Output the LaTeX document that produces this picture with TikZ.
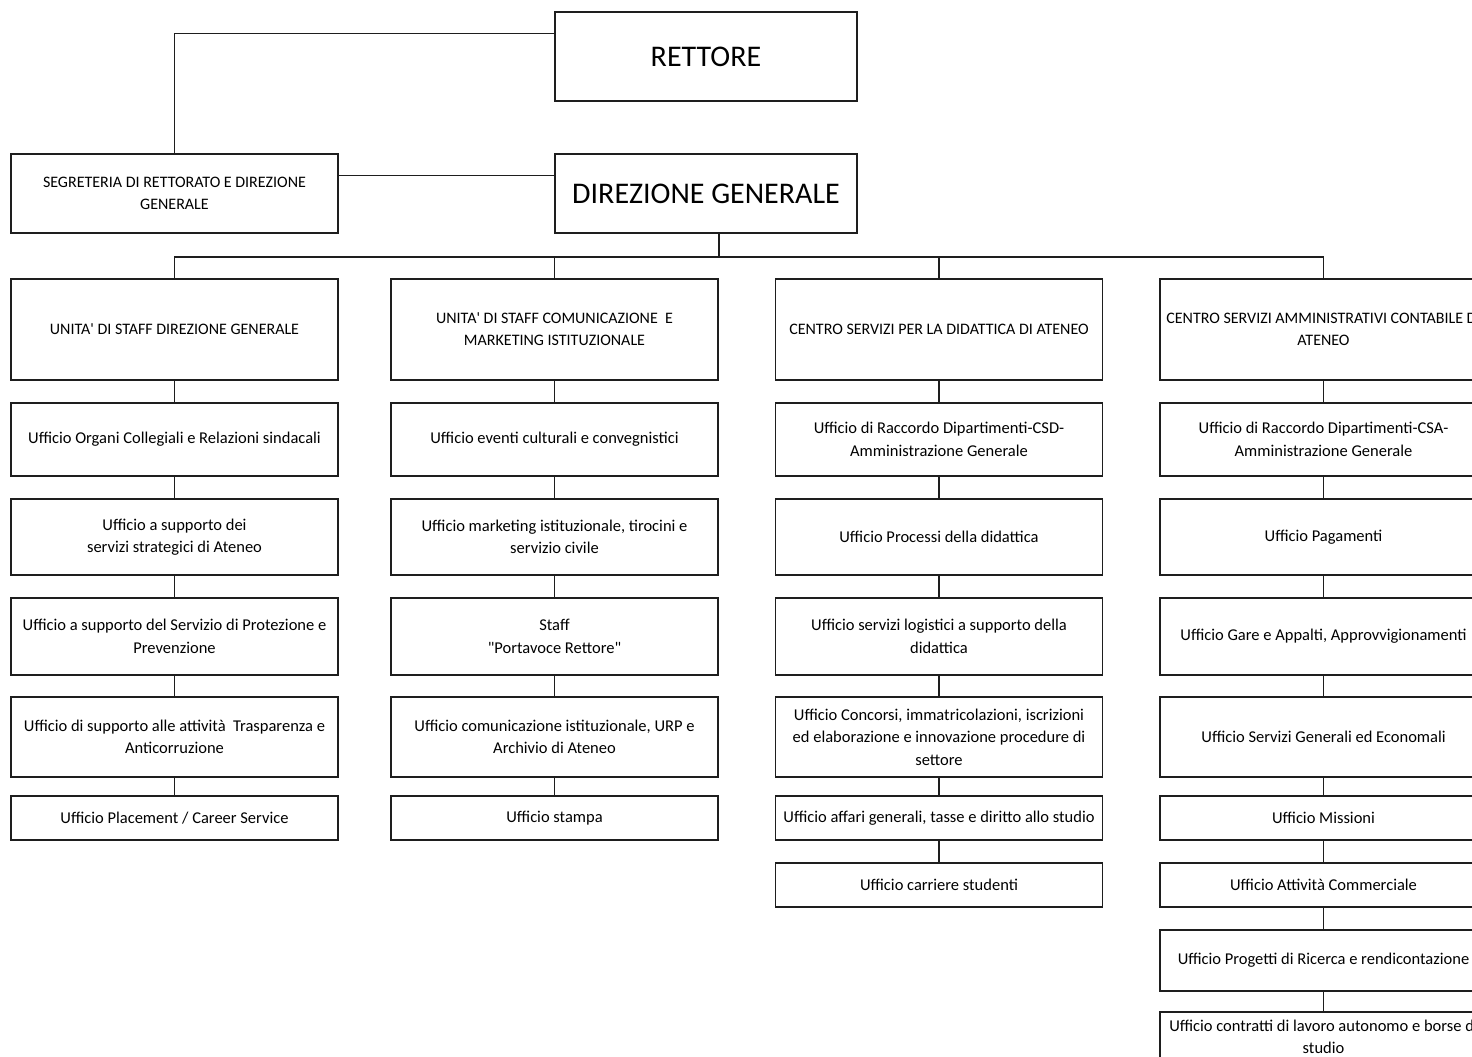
\documentclass[tikz,border=0pt]{standalone}
\usepackage{fontspec}
\setmainfont{Carlito}
\usetikzlibrary{calc}

\tikzset{every picture/.style={line width=1.1pt}}
\tikzset{
  ufficio/.style={draw={rgb,255:red,30;green,30;blue,30}, align=center, inner sep=0pt,
    minimum width=327pt, font=\fontsize{16.5}{22.5}\selectfont},
  settore/.style={ufficio, minimum height=101pt, font=\fontsize{16}{22}\selectfont},
  vertice/.style={ufficio, minimum width=302pt, font=\fontsize{30}{34}\selectfont},
  link/.style={draw={rgb,255:red,30;green,30;blue,30}},
}

\begin{document}
\begin{tikzpicture}[x=1pt,y=1pt,yscale=-1,xscale=1]
\useasboundingbox (0,0) rectangle (1472,1057);
\clip (0,0) rectangle (1472,1057);

%Vertici
\node [vertice, minimum height=89pt] (rett) at (706,56.5) {RETTORE};
\node [vertice, minimum height=79pt] (dg) at (706,193.5) {DIREZIONE GENERALE};
\node [settore, minimum height=79pt] (segr) at (174.5,193.5) {SEGRETERIA DI RETTORATO E DIREZIONE\\GENERALE};

%Colonna 1
\node [settore] (c1h) at (174.5,329.5) {UNITA\textquotesingle{} DI STAFF DIREZIONE GENERALE};
\node [ufficio, minimum height=73pt] (c1a) at (174.5,439.5) {Ufficio Organi Collegiali e Relazioni sindacali};
\node [ufficio, minimum height=76pt] (c1b) at (174.5,537) {Ufficio a supporto dei\\servizi strategici di Ateneo};
\node [ufficio, minimum height=77pt] (c1c) at (174.5,636.5) {Ufficio a supporto del Servizio di Protezione e\\Prevenzione};
\node [ufficio, minimum height=80pt] (c1d) at (174.5,737) {Ufficio di supporto alle attività\ \ Trasparenza e\\Anticorruzione};
\node [ufficio, minimum height=44pt] (c1e) at (174.5,818) {Ufficio Placement / Career Service};

%Colonna 2
\node [settore] (c2h) at (554.5,329.5) {UNITA\textquotesingle{} DI STAFF COMUNICAZIONE\ \ E\\MARKETING ISTITUZIONALE};
\node [ufficio, minimum height=73pt] (c2a) at (554.5,439.5) {Ufficio eventi culturali e convegnistici};
\node [ufficio, minimum height=76pt] (c2b) at (554.5,537) {Ufficio marketing istituzionale, tirocini e\\servizio civile};
\node [ufficio, minimum height=77pt] (c2c) at (554.5,636.5) {Staff\\\textquotedbl Portavoce Rettore\textquotedbl};
\node [ufficio, minimum height=80pt] (c2d) at (554.5,737) {Ufficio comunicazione istituzionale, URP e\\Archivio di Ateneo};
\node [ufficio, minimum height=44pt] (c2e) at (554.5,818) {Ufficio stampa};

%Colonna 3
\node [settore] (c3h) at (939,329.5) {CENTRO SERVIZI PER LA DIDATTICA DI ATENEO};
\node [ufficio, minimum height=73pt] (c3a) at (939,439.5) {Ufficio di Raccordo Dipartimenti-CSD-\\Amministrazione Generale};
\node [ufficio, minimum height=76pt] (c3b) at (939,537) {Ufficio Processi della didattica};
\node [ufficio, minimum height=77pt] (c3c) at (939,636.5) {Ufficio servizi logistici a supporto della\\didattica};
\node [ufficio, minimum height=80pt] (c3d) at (939,737) {Ufficio Concorsi, immatricolazioni, iscrizioni\\ed elaborazione e innovazione procedure di\\settore};
\node [ufficio, minimum height=44pt] (c3e) at (939,818) {Ufficio affari generali, tasse e diritto allo studio};
\node [ufficio, minimum height=44pt] (c3f) at (939,885) {Ufficio carriere studenti};

%Colonna 4
\node [settore] (c4h) at (1323.5,329.5) {CENTRO SERVIZI AMMINISTRATIVI CONTABILE DI\\ATENEO};
\node [ufficio, minimum height=73pt] (c4a) at (1323.5,439.5) {Ufficio di Raccordo Dipartimenti-CSA-\\Amministrazione Generale};
\node [ufficio, minimum height=76pt] (c4b) at (1323.5,537) {Ufficio Pagamenti};
\node [ufficio, minimum height=77pt] (c4c) at (1323.5,636.5) {Ufficio Gare e Appalti, Approvvigionamenti};
\node [ufficio, minimum height=80pt] (c4d) at (1323.5,737) {Ufficio Servizi Generali ed Economali};
\node [ufficio, minimum height=44pt] (c4e) at (1323.5,818) {Ufficio Missioni};
\node [ufficio, minimum height=44pt] (c4f) at (1323.5,885) {Ufficio Attività Commerciale};
\node [ufficio, minimum height=61pt] (c4g) at (1323.5,960.5) {Ufficio Progetti di Ricerca e rendicontazione};
\node [ufficio, minimum height=50pt] (c4h2) at (1323.5,1037) {Ufficio contratti di lavoro autonomo e borse di\\studio};

%Collegamenti in alto
\coordinate (rtap) at ($(rett.north west)+(0,22)$);
\coordinate (dtap) at ($(dg.north west)+(0,22)$);
\coordinate (bus) at (719,257);
\draw [link] (rtap) -| (segr.north);
\draw [link] (segr.east |- dtap) -- (dtap);
\draw [link] (dg.south -| bus) -- (bus);
\draw [link] (c1h.north) |- (bus) -| (c4h.north);
\draw [link] (c2h.north) -- (c2h.north |- bus);
\draw [link] (c3h.north) -- (c3h.north |- bus);

%Collegamenti nelle colonne
\draw [link] (c1h.south) -- (c1a.north) (c1a.south) -- (c1b.north) (c1b.south) -- (c1c.north)
  (c1c.south) -- (c1d.north) (c1d.south) -- (c1e.north);
\draw [link] (c2h.south) -- (c2a.north) (c2a.south) -- (c2b.north) (c2b.south) -- (c2c.north)
  (c2c.south) -- (c2d.north) (c2d.south) -- (c2e.north);
\draw [link] (c3h.south) -- (c3a.north) (c3a.south) -- (c3b.north) (c3b.south) -- (c3c.north)
  (c3c.south) -- (c3d.north) (c3d.south) -- (c3e.north) (c3e.south) -- (c3f.north);
\draw [link] (c4h.south) -- (c4a.north) (c4a.south) -- (c4b.north) (c4b.south) -- (c4c.north)
  (c4c.south) -- (c4d.north) (c4d.south) -- (c4e.north) (c4e.south) -- (c4f.north)
  (c4f.south) -- (c4g.north) (c4g.south) -- (c4h2.north);

\end{tikzpicture}
\end{document}
